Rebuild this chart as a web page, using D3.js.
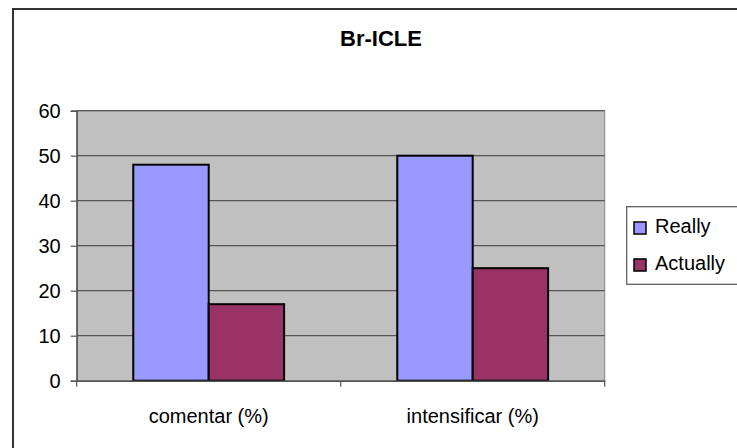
<!DOCTYPE html>
<html>
<head>
<meta charset="utf-8">
<script src="https://cdn.jsdelivr.net/npm/d3@7"></script>
<style>
  body { margin: 0; background: #fff; }
  text { font-family: "Liberation Sans", Arial, sans-serif; }
</style>
</head>
<body>
<svg id="drawing_region"></svg>
<script>
const categories = ["comentar (%)", "intensificar (%)"];
const series = ["Really", "Actually"];
const really = [48, 50];
const actually = [17, 25];
const yTicks = [0, 10, 20, 30, 40, 50, 60];
const colors = ["#9999FF", "#993366"];

const data = categories.map((c, i) => ({ cat: c, values: [really[i], actually[i]] }));

const width = 737, height = 448;
const plot = { left: 76.7, right: 604.7, top: 110.7, bottom: 380.7 };

const svg = d3.select('#drawing_region')
    .attr('width', width)
    .attr('height', height);

// outer chart border (cut off at right and bottom)
svg.append('rect')
    .attr('x', 13).attr('y', 9)
    .attr('width', 780).attr('height', 480)
    .attr('fill', 'none')
    .attr('stroke', '#333')
    .attr('stroke-width', 2);

const yscale = d3.scaleLinear()
    .domain([0, 60])
    .range([plot.bottom, plot.top]);

const x0 = d3.scaleBand()
    .domain(categories)
    .range([plot.left, plot.right]);

const x1 = d3.scaleBand()
    .domain(series)
    .range([0, x0.bandwidth()])
    .paddingOuter(0.75);

// plot area
svg.append('rect')
    .attr('x', plot.left).attr('y', plot.top)
    .attr('width', plot.right - plot.left)
    .attr('height', plot.bottom - plot.top)
    .attr('fill', '#C0C0C0')
    .attr('stroke', '#808080')
    .attr('stroke-width', 1);

// gridlines
svg.append('g')
    .selectAll('line')
    .data(yTicks.filter(d => d > 0))
    .enter()
    .append('line')
    .attr('x1', plot.left).attr('x2', plot.right)
    .attr('y1', d => yscale(d)).attr('y2', d => yscale(d))
    .attr('stroke', '#555')
    .attr('stroke-width', 1.2);

// bars
const groups = svg.append('g')
    .selectAll('g')
    .data(data)
    .enter()
    .append('g')
    .attr('transform', d => `translate(${x0(d.cat)},0)`);

groups.selectAll('rect')
    .data(d => d.values.map((v, i) => ({ s: series[i], v: v, i: i })))
    .enter()
    .append('rect')
    .attr('x', d => x1(d.s))
    .attr('y', d => yscale(d.v))
    .attr('width', x1.bandwidth())
    .attr('height', d => yscale(0) - yscale(d.v))
    .attr('fill', d => colors[d.i])
    .attr('stroke', '#000')
    .attr('stroke-width', 2);

// y axis
const yaxis = d3.axisLeft(yscale)
    .tickValues(yTicks)
    .tickSize(6)
    .tickPadding(10);

const yg = svg.append('g')
    .attr('transform', `translate(${plot.left},0)`)
    .call(yaxis);
yg.select('.domain').attr('stroke', '#555').attr('stroke-width', 1.5);
yg.selectAll('.tick line').attr('stroke', '#555').attr('stroke-width', 1.2);
yg.selectAll('.tick text')
    .attr('font-size', 20)
    .attr('fill', '#000')
    .style('font-family', '"Liberation Sans", Arial, sans-serif');

// x axis
const xaxis = d3.axisBottom(x0)
    .tickSize(0)
    .tickPadding(28);

const xg = svg.append('g')
    .attr('transform', `translate(0,${plot.bottom})`)
    .call(xaxis);
xg.select('.domain').attr('stroke', '#555').attr('stroke-width', 1.5);
xg.selectAll('.tick text')
    .attr('font-size', 20)
    .attr('fill', '#000')
    .style('font-family', '"Liberation Sans", Arial, sans-serif');

// tick marks at category boundaries
const bounds = [x0(categories[0])].concat(categories.map(c => x0(c) + x0.bandwidth()));
xg.selectAll('.bound')
    .data(bounds)
    .enter()
    .append('line')
    .attr('x1', d => d).attr('x2', d => d)
    .attr('y1', 0).attr('y2', 6)
    .attr('stroke', '#555')
    .attr('stroke-width', 1.2);

// title
svg.append('text')
    .attr('x', 381)
    .attr('y', 45.5)
    .attr('text-anchor', 'middle')
    .attr('font-weight', 'bold')
    .attr('font-size', 22)
    .text('Br-ICLE');

// legend
const legend = svg.append('g');
legend.append('rect')
    .attr('x', 626.7).attr('y', 206.7)
    .attr('width', 140).attr('height', 77.6)
    .attr('fill', '#fff')
    .attr('stroke', '#555')
    .attr('stroke-width', 1.2);

const items = legend.selectAll('g')
    .data(series)
    .enter()
    .append('g')
    .attr('transform', (d, i) => `translate(634, ${222 + i * 37})`);

items.append('rect')
    .attr('width', 12).attr('height', 12)
    .attr('fill', (d, i) => colors[i])
    .attr('stroke', '#000')
    .attr('stroke-width', 1.5);

items.append('text')
    .attr('x', 21)
    .attr('y', 11)
    .attr('font-size', 20)
    .text(d => d);
</script>
</body>
</html>
